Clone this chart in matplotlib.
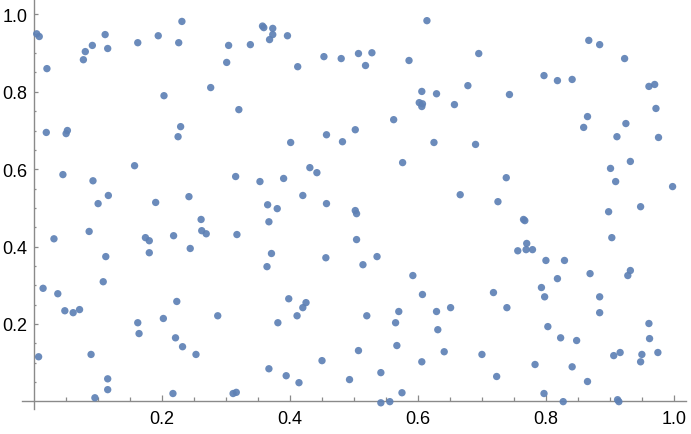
"""
plot.py
Scatter of 200 points on the unit square, Mathematica ListPlot look.
"""

import matplotlib
matplotlib.use("Agg")
import matplotlib.pyplot as plt
from matplotlib.ticker import FixedLocator

# point coordinates
x_vals = [
    0.004, 0.008, 0.020, 0.019, 0.050, 0.052, 0.077, 0.080, 0.091, 0.111,
    0.115, 0.162, 0.194, 0.203, 0.226, 0.231, 0.229, 0.225, 0.276, 0.301,
    0.304, 0.320, 0.338, 0.357, 0.359, 0.373, 0.373, 0.368, 0.396, 0.412,
    0.401, 0.453, 0.480, 0.507, 0.528, 0.518, 0.586, 0.614, 0.606, 0.629,
    0.602, 0.607, 0.606, 0.657, 0.678, 0.562, 0.502, 0.457, 0.482, 0.625,
    0.695, 0.743, 0.690, 0.797, 0.818, 0.841, 0.867, 0.884, 0.923, 0.961,
    0.970, 0.972, 0.865, 0.859, 0.925, 0.911, 0.976, 0.045, 0.092, 0.157,
    0.315, 0.116, 0.100, 0.190, 0.242, 0.031, 0.086, 0.174, 0.180, 0.218,
    0.261, 0.262, 0.269, 0.317, 0.112, 0.180, 0.244, 0.108, 0.014, 0.353,
    0.390, 0.431, 0.442, 0.576, 0.666, 0.420, 0.457, 0.365, 0.380, 0.367,
    0.502, 0.504, 0.504, 0.371, 0.364, 0.456, 0.514, 0.536, 0.592, 0.738,
    0.725, 0.765, 0.767, 0.770, 0.756, 0.769, 0.779, 0.800, 0.829, 0.818,
    0.793, 0.869, 0.932, 0.901, 0.909, 0.998, 0.898, 0.948, 0.903, 0.932,
    0.928, 0.037, 0.048, 0.061, 0.071, 0.007, 0.089, 0.115, 0.115, 0.095,
    0.162, 0.164, 0.202, 0.223, 0.221, 0.232, 0.253, 0.217, 0.287, 0.311,
    0.316, 0.398, 0.425, 0.420, 0.411, 0.381, 0.367, 0.394, 0.414, 0.450,
    0.493, 0.507, 0.520, 0.542, 0.542, 0.556, 0.575, 0.565, 0.570, 0.567,
    0.607, 0.606, 0.629, 0.631, 0.651, 0.641, 0.718, 0.739, 0.798, 0.700,
    0.723, 0.803, 0.823, 0.848, 0.783, 0.797, 0.827, 0.841, 0.865, 0.884,
    0.884, 0.906, 0.916, 0.912, 0.914, 0.961, 0.962, 0.950, 0.948, 0.975,
]
y_vals = [
    0.950, 0.943, 0.860, 0.695, 0.692, 0.700, 0.883, 0.904, 0.920, 0.948,
    0.912, 0.927, 0.945, 0.790, 0.927, 0.982, 0.710, 0.684, 0.811, 0.876,
    0.920, 0.754, 0.922, 0.970, 0.966, 0.964, 0.948, 0.935, 0.945, 0.865,
    0.669, 0.891, 0.886, 0.899, 0.901, 0.868, 0.881, 0.984, 0.801, 0.795,
    0.772, 0.769, 0.762, 0.767, 0.816, 0.728, 0.702, 0.689, 0.671, 0.669,
    0.899, 0.793, 0.664, 0.842, 0.829, 0.832, 0.933, 0.922, 0.886, 0.814,
    0.819, 0.757, 0.736, 0.708, 0.718, 0.684, 0.682, 0.586, 0.570, 0.609,
    0.581, 0.532, 0.511, 0.514, 0.529, 0.420, 0.439, 0.423, 0.415, 0.428,
    0.470, 0.441, 0.433, 0.431, 0.374, 0.384, 0.395, 0.309, 0.292, 0.568,
    0.576, 0.604, 0.591, 0.617, 0.534, 0.532, 0.511, 0.508, 0.498, 0.464,
    0.493, 0.485, 0.418, 0.382, 0.348, 0.371, 0.353, 0.374, 0.325, 0.578,
    0.516, 0.470, 0.467, 0.408, 0.389, 0.392, 0.392, 0.364, 0.364, 0.317,
    0.294, 0.330, 0.620, 0.602, 0.568, 0.555, 0.490, 0.503, 0.423, 0.338,
    0.325, 0.278, 0.234, 0.229, 0.237, 0.115, 0.121, 0.058, 0.030, 0.009,
    0.203, 0.175, 0.214, 0.258, 0.164, 0.141, 0.121, 0.020, 0.221, 0.020,
    0.023, 0.265, 0.255, 0.242, 0.221, 0.203, 0.084, 0.066, 0.048, 0.105,
    0.056, 0.131, 0.221, 0.074, -0.004, -0.001, 0.022, 0.203, 0.232, 0.144,
    0.276, 0.102, 0.232, 0.185, 0.242, 0.128, 0.281, 0.242, 0.270, 0.121,
    0.064, 0.193, 0.164, 0.157, 0.095, 0.020, -0.001, 0.089, 0.051, 0.270,
    0.229, 0.118, 0.126, 0.004, -0.001, 0.201, 0.162, 0.121, 0.102, 0.126,
]

major_ticks = [0.2, 0.4, 0.6, 0.8, 1.0]
tick_labels = ["0.2", "0.4", "0.6", "0.8", "1.0"]
minor_ticks = [0.05, 0.1, 0.15, 0.25, 0.3, 0.35, 0.45, 0.5, 0.55,
               0.65, 0.7, 0.75, 0.85, 0.9, 0.95]

POINT_COLOR = "#5E81B5"
AXIS_COLOR = "#8a8a8a"


def main():
    plt.rcParams["font.family"] = ["Liberation Sans", "DejaVu Sans"]

    fig = plt.figure(figsize=(6.91, 4.35), dpi=100)
    ax = fig.add_axes([0.0318, 0.0575, 0.961, 0.9425])

    ax.scatter(x_vals, y_vals, s=28, color=POINT_COLOR, alpha=0.92,
               edgecolors="none", clip_on=False, zorder=3)

    ax.set_xlim(-0.019, 1.019)
    ax.set_ylim(-0.02, 1.04)

    # Mathematica-style axes crossing at the origin
    for side in ["top", "right"]:
        ax.spines[side].set_visible(False)
    for side in ["left", "bottom"]:
        ax.spines[side].set_position(("data", 0))
        ax.spines[side].set_color(AXIS_COLOR)
        ax.spines[side].set_linewidth(1.0)

    for axis in (ax.xaxis, ax.yaxis):
        axis.set_major_locator(FixedLocator(major_ticks))
        axis.set_minor_locator(FixedLocator(minor_ticks))
    ax.set_xticklabels(tick_labels)
    ax.set_yticklabels(tick_labels)

    ax.tick_params(which="both", direction="in", width=0.9, color=AXIS_COLOR)
    ax.tick_params(which="major", labelsize=13, labelcolor="black")
    # x ticks are a bit longer than y ticks in the reference
    ax.tick_params(axis="x", which="major", length=4.4, pad=6)
    ax.tick_params(axis="x", which="minor", length=2.8)
    ax.tick_params(axis="y", which="major", length=3.0, pad=5)
    ax.tick_params(axis="y", which="minor", length=1.6)

    fig.savefig("out.png", dpi=100)


if __name__ == "__main__":
    main()
